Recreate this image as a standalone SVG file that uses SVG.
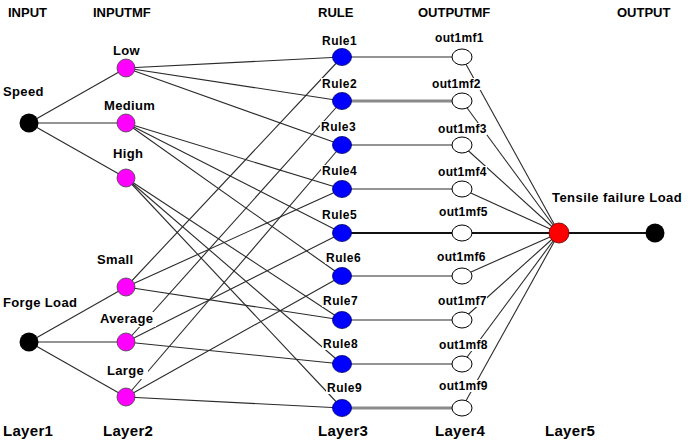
<svg xmlns="http://www.w3.org/2000/svg" width="698" height="445" viewBox="0 0 698 445">
<style>
text{font-family:"Liberation Sans",Arial,sans-serif;font-weight:bold;fill:#000}
.hd{font-size:13px}
.lb{font-size:13px;letter-spacing:0.35px}
.rl{font-size:12px;letter-spacing:0.5px}
.om{font-size:12px;letter-spacing:0.3px}
.ly{font-size:15px;letter-spacing:0.3px}
.bg{fill:#fff}
.c line{stroke:#2a2a2a;stroke-width:1.1}
line.g{stroke:#8a8a8a;stroke-width:3}
line.k{stroke:#111;stroke-width:2}
.in{fill:#000}
.mf{fill:#ff00ff;stroke:#444;stroke-width:0.8}
.ru{fill:#0000ff;stroke:#000066;stroke-width:0.8}
.om-n{fill:#fff;stroke:#000;stroke-width:1}
.red{fill:#ff0000;stroke:#660000;stroke-width:0.8}
</style>
<rect width="698" height="445" fill="#fff"/>
<g id="headers">
<text class="hd" x="8" y="17">INPUT</text>
<text class="hd" x="93" y="17">INPUTMF</text>
<text class="hd" x="318" y="17">RULE</text>
<text class="hd" x="418" y="17">OUTPUTMF</text>
<text class="hd" x="617" y="17">OUTPUT</text>
</g>
<g id="connectors" class="c">
<line x1="29" y1="123" x2="126" y2="68"/>
<line x1="29" y1="123" x2="126" y2="123"/>
<line x1="29" y1="123" x2="126" y2="178"/>
<line x1="29" y1="342" x2="126" y2="287"/>
<line x1="29" y1="342" x2="126" y2="342"/>
<line x1="29" y1="342" x2="126" y2="397"/>
<line x1="126" y1="68" x2="342" y2="57"/>
<line x1="126" y1="68" x2="342" y2="101"/>
<line x1="126" y1="68" x2="342" y2="145"/>
<line x1="126" y1="123" x2="342" y2="189"/>
<line x1="126" y1="123" x2="342" y2="233"/>
<line x1="126" y1="123" x2="342" y2="276"/>
<line x1="126" y1="178" x2="342" y2="320"/>
<line x1="126" y1="178" x2="342" y2="364"/>
<line x1="126" y1="178" x2="342" y2="408"/>
<line x1="126" y1="287" x2="342" y2="57"/>
<line x1="126" y1="287" x2="342" y2="189"/>
<line x1="126" y1="287" x2="342" y2="320"/>
<line x1="126" y1="342" x2="342" y2="101"/>
<line x1="126" y1="342" x2="342" y2="233"/>
<line x1="126" y1="342" x2="342" y2="364"/>
<line x1="126" y1="397" x2="342" y2="145"/>
<line x1="126" y1="397" x2="342" y2="276"/>
<line x1="126" y1="397" x2="342" y2="408"/>
<line x1="342" y1="57" x2="462" y2="57"/>
<line class="g" x1="342" y1="101" x2="462" y2="101"/>
<line x1="342" y1="145" x2="462" y2="145"/>
<line x1="342" y1="189" x2="462" y2="189"/>
<line class="k" x1="342" y1="233" x2="462" y2="233"/>
<line x1="342" y1="276" x2="462" y2="276"/>
<line x1="342" y1="320" x2="462" y2="320"/>
<line x1="342" y1="364" x2="462" y2="364"/>
<line class="g" x1="342" y1="408" x2="462" y2="408"/>
<line x1="462" y1="57" x2="559" y2="233"/>
<line x1="462" y1="101" x2="559" y2="233"/>
<line x1="462" y1="145" x2="559" y2="233"/>
<line x1="462" y1="189" x2="559" y2="233"/>
<line class="k" x1="462" y1="233" x2="559" y2="233"/>
<line x1="462" y1="276" x2="559" y2="233"/>
<line x1="462" y1="320" x2="559" y2="233"/>
<line x1="462" y1="364" x2="559" y2="233"/>
<line x1="462" y1="408" x2="559" y2="233"/>
<line class="k" x1="559" y1="233" x2="655" y2="233"/>
</g>
<g id="speed"><circle class="in" cx="29" cy="123" r="9.5"/><text class="lb" x="3" y="96">Speed</text></g>
<g id="forge-load"><circle class="in" cx="29" cy="342" r="9.5"/><text class="lb" x="3" y="307">Forge Load</text></g>
<g id="low"><circle class="mf" cx="126" cy="68" r="9"/><rect class="bg" x="112" y="44" width="29" height="13"/><text class="lb" x="113" y="55">Low</text></g>
<g id="medium"><circle class="mf" cx="126" cy="123" r="9"/><rect class="bg" x="103" y="99" width="54" height="13"/><text class="lb" x="104" y="110">Medium</text></g>
<g id="high"><circle class="mf" cx="126" cy="178" r="9"/><rect class="bg" x="112" y="147" width="32" height="15"/><text class="lb" x="113" y="158">High</text></g>
<g id="small"><circle class="mf" cx="126" cy="287" r="9"/><rect class="bg" x="96" y="253" width="39" height="13"/><text class="lb" x="97" y="264">Small</text></g>
<g id="average"><circle class="mf" cx="126" cy="342" r="9"/><rect class="bg" x="99" y="312" width="57" height="15"/><text class="lb" x="100" y="323">Average</text></g>
<g id="large"><circle class="mf" cx="126" cy="397" r="9"/><rect class="bg" x="106" y="364" width="42" height="15"/><text class="lb" x="107" y="375">Large</text></g>
<g id="rule1"><ellipse class="ru" cx="342" cy="57" rx="9.5" ry="8.5"/><rect class="bg" x="321" y="35" width="37" height="12"/><text class="rl" x="322" y="45">Rule1</text></g>
<g id="rule2"><ellipse class="ru" cx="342" cy="101" rx="9.5" ry="8.5"/><rect class="bg" x="321" y="78" width="37" height="12"/><text class="rl" x="322" y="88">Rule2</text></g>
<g id="rule3"><ellipse class="ru" cx="342" cy="145" rx="9.5" ry="8.5"/><rect class="bg" x="320" y="121" width="37" height="12"/><text class="rl" x="321" y="131">Rule3</text></g>
<g id="rule4"><ellipse class="ru" cx="342" cy="189" rx="9.5" ry="8.5"/><rect class="bg" x="321" y="165" width="37" height="12"/><text class="rl" x="322" y="175">Rule4</text></g>
<g id="rule5"><ellipse class="ru" cx="342" cy="233" rx="9.5" ry="8.5"/><rect class="bg" x="321" y="209" width="37" height="12"/><text class="rl" x="322" y="219">Rule5</text></g>
<g id="rule6"><ellipse class="ru" cx="342" cy="276" rx="9.5" ry="8.5"/><rect class="bg" x="325" y="252" width="37" height="12"/><text class="rl" x="326" y="262">Rule6</text></g>
<g id="rule7"><ellipse class="ru" cx="342" cy="320" rx="9.5" ry="8.5"/><rect class="bg" x="322" y="295" width="37" height="12"/><text class="rl" x="323" y="305">Rule7</text></g>
<g id="rule8"><ellipse class="ru" cx="342" cy="364" rx="9.5" ry="8.5"/><rect class="bg" x="322" y="338" width="37" height="12"/><text class="rl" x="323" y="348">Rule8</text></g>
<g id="rule9"><ellipse class="ru" cx="342" cy="408" rx="9.5" ry="8.5"/><rect class="bg" x="326" y="382" width="37" height="12"/><text class="rl" x="327" y="392">Rule9</text></g>
<g id="out1mf1"><ellipse class="om-n" cx="462" cy="57" rx="10" ry="8"/><rect class="bg" x="434" y="32" width="50" height="12"/><text class="om" x="435" y="42">out1mf1</text></g>
<g id="out1mf2"><ellipse class="om-n" cx="462" cy="101" rx="10" ry="8"/><rect class="bg" x="431" y="78" width="50" height="12"/><text class="om" x="432" y="88">out1mf2</text></g>
<g id="out1mf3"><ellipse class="om-n" cx="462" cy="145" rx="10" ry="8"/><rect class="bg" x="437" y="123" width="50" height="12"/><text class="om" x="438" y="133">out1mf3</text></g>
<g id="out1mf4"><ellipse class="om-n" cx="462" cy="189" rx="10" ry="8"/><rect class="bg" x="437" y="166" width="50" height="12"/><text class="om" x="438" y="176">out1mf4</text></g>
<g id="out1mf5"><ellipse class="om-n" cx="462" cy="233" rx="10" ry="8"/><rect class="bg" x="438" y="206" width="50" height="12"/><text class="om" x="439" y="216">out1mf5</text></g>
<g id="out1mf6"><ellipse class="om-n" cx="462" cy="276" rx="10" ry="8"/><rect class="bg" x="436" y="251" width="50" height="12"/><text class="om" x="437" y="261">out1mf6</text></g>
<g id="out1mf7"><ellipse class="om-n" cx="462" cy="320" rx="10" ry="8"/><rect class="bg" x="437" y="295" width="50" height="12"/><text class="om" x="438" y="305">out1mf7</text></g>
<g id="out1mf8"><ellipse class="om-n" cx="462" cy="364" rx="10" ry="8"/><rect class="bg" x="438" y="339" width="50" height="12"/><text class="om" x="439" y="349">out1mf8</text></g>
<g id="out1mf9"><ellipse class="om-n" cx="462" cy="408" rx="10" ry="8"/><rect class="bg" x="438" y="380" width="50" height="12"/><text class="om" x="439" y="390">out1mf9</text></g>
<g id="tensile-failure-load"><circle class="red" cx="559" cy="233" r="10"/><text class="lb" x="552" y="202" style="letter-spacing:0.45px">Tensile failure Load</text></g>
<g id="output"><circle class="in" cx="655" cy="233" r="9.5"/></g>
<g id="layers">
<text class="ly" x="3" y="436">Layer1</text>
<text class="ly" x="103" y="436">Layer2</text>
<text class="ly" x="318" y="436">Layer3</text>
<text class="ly" x="435" y="436">Layer4</text>
<text class="ly" x="545" y="436">Layer5</text>
</g>
</svg>
